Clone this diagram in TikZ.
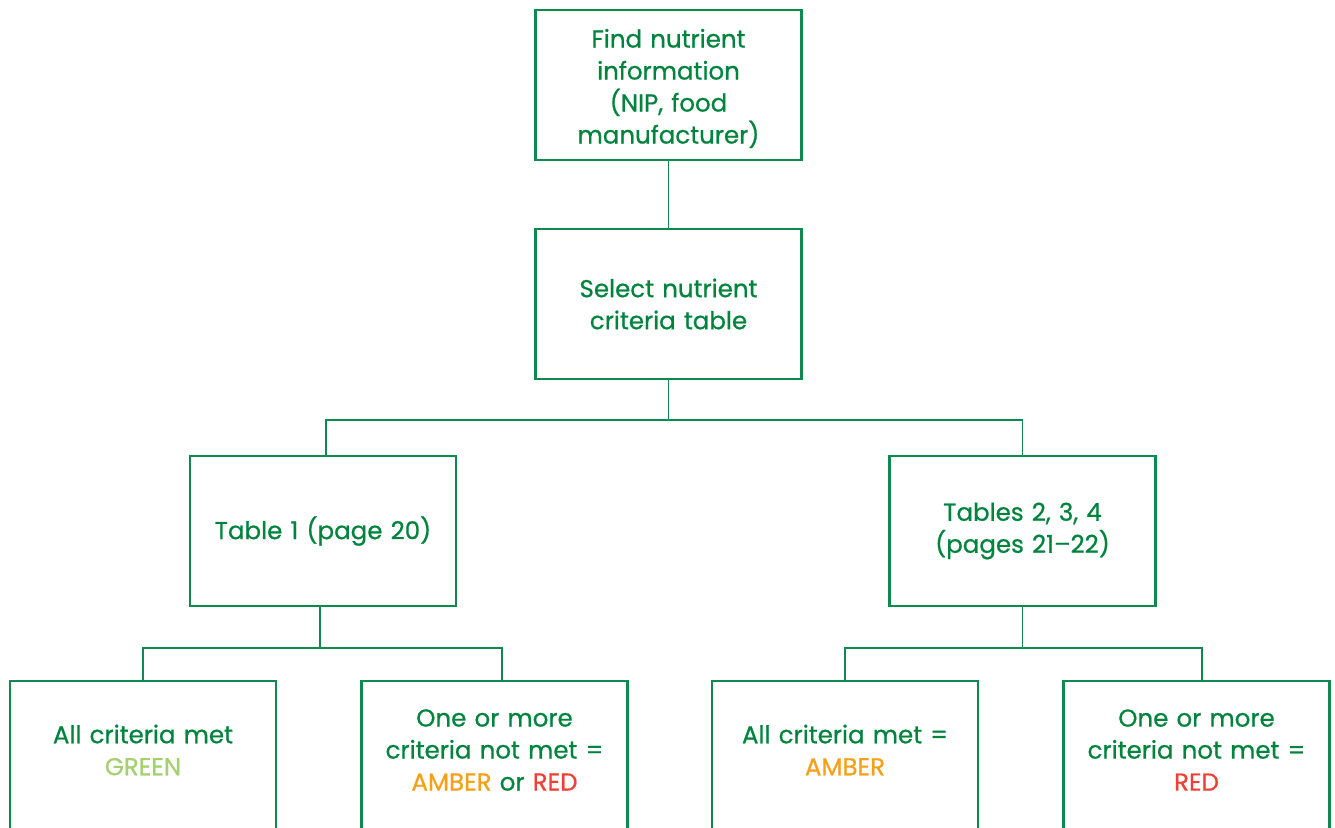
\documentclass[tikz,border=0pt]{standalone}
\usepackage{fontspec}
\setmainfont{Poppins}[FakeBold=0.7]
\usepackage{xcolor}
\usepackage{tikz}
\usetikzlibrary{positioning}

\definecolor{vicgreen}{HTML}{00843D}
\definecolor{vicframe}{HTML}{0E8A4F}
\definecolor{lightgreen}{HTML}{A2D16E}
\definecolor{amber}{HTML}{F6A01A}
\definecolor{redtone}{HTML}{EE4136}

\begin{document}
\begin{tikzpicture}[x=1pt,y=-1pt]
	\tikzstyle{stepbox}=[draw=vicframe,line width=2.6pt,minimum width=266pt,minimum height=150pt,
		text width=255pt,align=center,text=vicgreen,font=\fontsize{24.5}{32}\selectfont]
	\tikzstyle{topbox}=[stepbox,execute at end node={\endgraf\vspace{-7pt}}]
	\tikzstyle{outbox}=[stepbox,execute at end node={\endgraf\vspace{12pt}}]
	\tikzstyle{link}=[draw=vicframe,line width=1.3pt]
	\useasboundingbox (0,0) rectangle (1335,827);
	% top of the tree
	\node[topbox](find) at (668.5,85){Find nutrient\\information\\(NIP, food\\manufacturer)};
	\node[stepbox](select) at (668.5,304){Select nutrient\\criteria table};
	% the two tables
	\node[stepbox](tabone) at (323,531){Table 1 (page 20)};
	\node[stepbox](tabrest) at (1022.5,531){Tables 2, 3, 4\\(pages 21--22)};
	% outcomes
	\node[outbox](greenout) at (143,756){All criteria met\\\textcolor{lightgreen}{GREEN}};
	\node[outbox](amberred) at (494.5,756){One or more\\criteria not met =\\\textcolor{amber}{AMBER} or \textcolor{redtone}{RED}};
	\node[outbox](amberout) at (845,756){All criteria met =\\\textcolor{amber}{AMBER}};
	\node[outbox](redout) at (1196.5,756){One or more\\criteria not met =\\\textcolor{redtone}{RED}};
	\coordinate (splitA) at (668.5,420);
	\coordinate (splitB) at (320,648);
	\coordinate (splitC) at (1022.5,648);
	\path[link]
		(find) -- (select)
		(select) -- (splitA) -| ([xshift=3pt]tabone.north)
		(splitA) -| (tabrest)
		([xshift=-3pt]tabone.south) -- (splitB) -| (greenout)
		(splitB) -| ([xshift=7.5pt]amberred.north)
		(tabrest) -- (splitC) -| (amberout)
		(splitC) -| ([xshift=5.5pt]redout.north);
\end{tikzpicture}
\end{document}
